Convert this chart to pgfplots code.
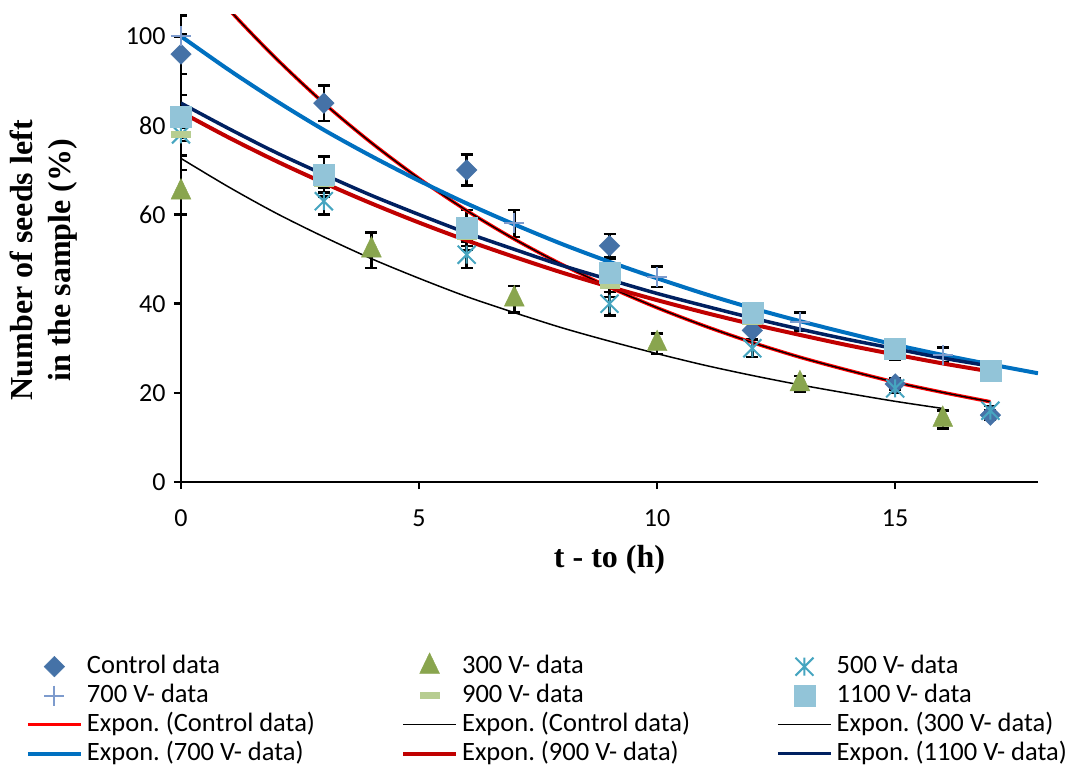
\documentclass[border=0pt]{standalone}
\usepackage{pgfplots}
\pgfplotsset{compat=1.18}
\usepackage{fontspec}
\setmainfont{Carlito}
\newfontfamily\tnr{Liberation Serif}
\definecolor{cctrl}{RGB}{69,114,167}
\definecolor{c300}{RGB}{137,165,78}
\definecolor{c500}{RGB}{70,165,192}
\definecolor{c700}{RGB}{125,155,205}
\definecolor{c900}{RGB}{183,205,145}
\definecolor{c1100}{RGB}{146,196,216}
\definecolor{f700}{RGB}{0,112,192}
\definecolor{f900}{RGB}{192,0,0}
\definecolor{f1100}{RGB}{0,32,96}
\pgfdeclareplotmark{xstar}{%
  \pgfpathmoveto{\pgfqpoint{-\pgfplotmarksize}{-\pgfplotmarksize}}\pgfpathlineto{\pgfqpoint{\pgfplotmarksize}{\pgfplotmarksize}}%
  \pgfpathmoveto{\pgfqpoint{-\pgfplotmarksize}{\pgfplotmarksize}}\pgfpathlineto{\pgfqpoint{\pgfplotmarksize}{-\pgfplotmarksize}}%
  \pgfpathmoveto{\pgfqpoint{0pt}{-\pgfplotmarksize}}\pgfpathlineto{\pgfqpoint{0pt}{\pgfplotmarksize}}%
  \pgfusepathqstroke}
\pgfplotsset{
  eb/.style={error bars/y dir=both, error bars/y explicit,
    error bars/error bar style={black, line width=2.5pt},
    error bars/error mark options={rotate=90, black, mark size=6pt, line width=2.5pt}},
  mleg/.style={legend image code/.code={\path[draw=none, fill=none] (0pt,-4pt) rectangle (53pt,4pt); \draw[##1] plot coordinates {(26.5pt,0pt)};}},
  lleg/.style={legend image code/.code={\draw[##1] (0pt,0pt) -- (53pt,0pt);}},
}
\begin{document}
\begin{tikzpicture}
\begin{axis}[
  name=ax,
  scale only axis,
  width=857pt, height=468pt,
  xmin=0, xmax=18, ymin=0, ymax=105,
  axis x line=bottom, axis y line=left,
  axis line style={line width=2.5pt, black, -},
  xtick={0,5,10,15}, ytick={0,20,40,60,80,100},
  tick align=outside,
  major tick length=7pt,
  tick style={line width=2.5pt, black},
  /pgf/number format/assume math mode=true,
  tick label style={font=\fontsize{26}{30}\selectfont},
  xticklabel style={yshift=-17pt}, yticklabel style={xshift=-5pt},
  xlabel={t - to (h)},
  ylabel={Number of seeds left\\in the sample (\%)},
  xlabel style={font=\tnr\bfseries\fontsize{32}{38}\selectfont, at={(axis description cs:0.5,-0.1667)}, anchor=center},
  ylabel style={font=\tnr\bfseries\fontsize{32}{38}\selectfont, align=center, at={(axis description cs:-0.16,0.474)}, anchor=center},
  legend columns=3,
  legend cell align=left,
  legend style={at={(axis description cs:-0.1809,-0.365)}, anchor=north west, draw=none, fill=none, inner sep=0pt, outer sep=0pt,
     font=\fontsize{26.5}{30}\selectfont, row sep=3pt,
     nodes={inner sep=0pt, text height=20pt, text depth=6pt},
     /tikz/every odd column/.append style={column sep=4pt},
     /tikz/every even column/.append style={column sep=86pt}},
]
% data series
\addplot[only marks, mark=square*, mark size=7.3pt, color=cctrl, mark options={rotate=45, fill=cctrl, draw=cctrl}, eb, mleg]
  coordinates {(0,96) +- (0,4.5) (3,85) +- (0,4) (6,70) +- (0,3.5) (9,53) +- (0,2.6) (12,34) +- (0,2) (15,22) +- (0,1.2) (17,15) +- (0,1)};
\addlegendentry{Control data}
\addplot[only marks, mark=triangle*, mark size=11.5pt, color=c300, mark options={fill=c300, draw=c300, yscale=1.2}, eb, mleg]
  coordinates {(0,65) +- (0,5) (4,52) +- (0,4) (7,41) +- (0,3) (10,31) +- (0,2.3) (13,22) +- (0,1.8) (16,14) +- (0,2)};
\addlegendentry{300 V- data}
\addplot[only marks, mark=xstar, mark size=9pt, color=c500, mark options={line width=2pt}, eb, mleg]
  coordinates {(0,78) +- (0,1.5) (3,63) +- (0,3) (6,51) +- (0,3) (9,40) +- (0,2.6) (12,30) +- (0,2) (15,21) +- (0,1) (17,16) +- (0,1)};
\addlegendentry{500 V- data}
\addplot[only marks, mark=+, mark size=10pt, color=c700, mark options={line width=2pt}, eb, mleg]
  coordinates {(0,100) +- (0,4.7) (7,58) +- (0,3) (10,46) +- (0,2.3) (13,36) +- (0,2) (16,28.5) +- (0,1.7)};
\addlegendentry{700 V- data}
\addplot[only marks, mark=-, mark size=10pt, color=c900, mark options={line width=6.5pt}, eb, mleg]
  coordinates {(0,78) +- (0,4.7) (3,67) +- (0,3) (6,55) +- (0,3) (9,44) +- (0,2.5) (12,36) +- (0,2) (15,29) +- (0,1.5) (17,24) +- (0,1)};
\addlegendentry{900 V- data}
\addplot[only marks, mark=square*, mark size=10.5pt, color=c1100, mark options={fill=c1100, draw=c1100}, eb, mleg]
  coordinates {(0,82) +- (0,4.8) (3,69) +- (0,4) (6,57) +- (0,4) (9,47) +- (0,3) (12,38) +- (0,2.2) (15,30) +- (0,1.2) (17,25) +- (0,1)};
\addlegendentry{1100 V- data}
% trend lines
\addplot[red, line width=3.5pt, smooth, lleg] coordinates {
 (0,118.6) (1,106.1) (2,95.0) (3,85.0) (4,76.1) (5,68.1) (6,60.9) (7,54.5) (8,48.8) (9,43.7)
 (10,39.1) (11,35.0) (12,31.3) (13,28.0) (14,25.1) (15,22.4) (16,20.1) (17,18.0)};
\addlegendentry{Expon.\ (Control data)}
\addplot[black, line width=1.3pt, smooth, lleg] coordinates {
 (0,118.6) (1,106.1) (2,95.0) (3,85.0) (4,76.1) (5,68.1) (6,60.9) (7,54.5) (8,48.8) (9,43.7)
 (10,39.1) (11,35.0) (12,31.3) (13,28.0) (14,25.1) (15,22.4) (16,20.1) (17,18.0)};
\addlegendentry{Expon.\ (Control data)}
\addplot[black, line width=1.5pt, smooth, lleg] coordinates {
 (0,72.6) (1,66.2) (2,60.3) (3,55.0) (4,50.1) (5,45.7) (6,41.6) (7,38.0) (8,34.6)
 (9,31.6) (10,28.8) (11,26.2) (12,23.9) (13,21.8) (14,19.9) (15,18.1) (16,16.5)};
\addlegendentry{Expon.\ (300 V- data)}
\addplot[f700, line width=4pt, smooth, lleg] coordinates {
 (0,100) (1,92.5) (2,85.5) (3,79.0) (4,73.1) (5,67.6) (6,62.5) (7,57.8) (8,53.4) (9,49.4)
 (10,45.7) (11,42.2) (12,39.0) (13,36.1) (14,33.4) (15,30.8) (16,28.5) (17,26.4) (18,24.4)};
\addlegendentry{Expon.\ (700 V- data)}
\addplot[f900, line width=4pt, smooth, lleg] coordinates {
 (0,83.0) (1,77.3) (2,72.0) (3,67.1) (4,62.5) (5,58.2) (6,54.2) (7,50.5) (8,47.0)
 (9,43.8) (10,40.8) (11,38.0) (12,35.4) (13,33.0) (14,30.7) (15,28.6) (16,26.6) (17,24.8)};
\addlegendentry{Expon.\ (900 V- data)}
\addplot[f1100, line width=3.5pt, smooth, lleg] coordinates {
 (0,85.0) (1,79.3) (2,73.9) (3,69.0) (4,64.3) (5,60.0) (6,55.9) (7,52.2) (8,48.6)
 (9,45.4) (10,42.3) (11,39.5) (12,36.8) (13,34.3) (14,32.0) (15,29.9) (16,27.8) (17,26.0)};
\addlegendentry{Expon.\ (1100 V- data)}
\end{axis}
\path (ax.south west) ++(-181pt,-287pt) rectangle ++(1073pt,769pt);
\end{tikzpicture}
\end{document}
